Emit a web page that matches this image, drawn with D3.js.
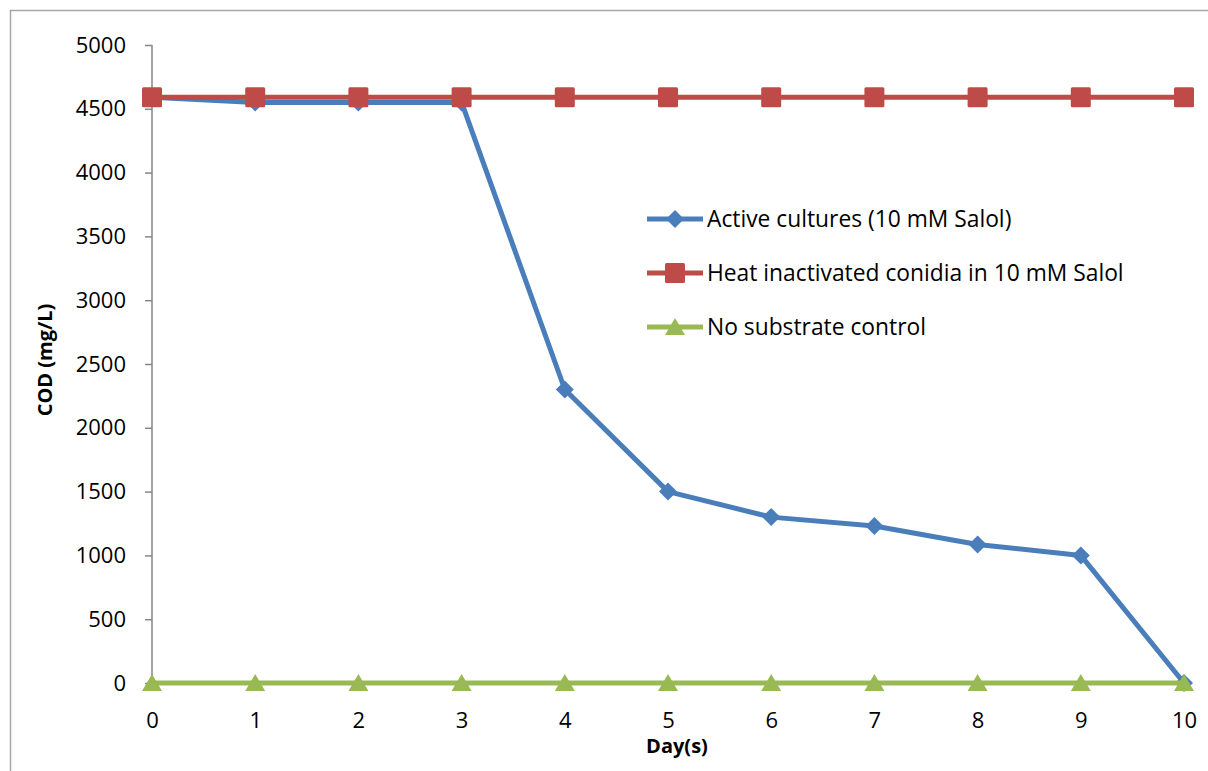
<!DOCTYPE html>
<html><head><meta charset="utf-8">
<script src="https://cdn.jsdelivr.net/npm/d3@7"></script>
<style>body{margin:0;background:#fff}svg text{font-family:"Open Sans",Lato,sans-serif;fill:#000}</style>
</head><body><svg id="c" width="1208" height="771"></svg>
<script>
const days = [0,1,2,3,4,5,6,7,8,9,10];
const activeCultures = [4590,4550,4550,4550,2300,1500,1300,1230,1085,1000,0];
const heatInactivated = [4590,4590,4590,4590,4590,4590,4590,4590,4590,4590,4590];
const noSubstrate = [0,0,0,0,0,0,0,0,0,0,0];
const yTicks = [0,500,1000,1500,2000,2500,3000,3500,4000,4500,5000];
const seriesNames = ["Active cultures (10 mM Salol)","Heat inactivated conidia in 10 mM Salol","No substrate control"];

const svg = d3.select("#c");
svg.append("rect").attr("x",10.5).attr("y",10.5).attr("width",1300).attr("height",900)
  .attr("fill","none").attr("stroke","#a6a6a6").attr("stroke-width",1.5);

const x = d3.scaleLinear().domain([0,10]).range([152,1184]);
const y = d3.scaleLinear().domain([0,5000]).range([683,45]);

const yAxis = svg.append("g").attr("transform","translate(152,0)")
  .call(d3.axisLeft(y).tickValues(yTicks).tickFormat(d3.format("d")).tickSize(7).tickPadding(19));
yAxis.select(".domain").attr("stroke","#868686").attr("stroke-width",1.5).attr("d","M0,45V683");
yAxis.selectAll(".tick line").attr("stroke","#868686").attr("stroke-width",1.5);
yAxis.selectAll("text").attr("font-size",22).attr("fill","#000");

const xAxis = svg.append("g").attr("transform","translate(0,683)")
  .call(d3.axisBottom(x).tickValues(days).tickFormat(d3.format("d")).tickSize(0).tickPadding(29));
xAxis.select(".domain").attr("stroke","#868686").attr("stroke-width",1.5);
xAxis.selectAll("text").attr("font-size",22).attr("fill","#000");

svg.append("text").attr("transform","translate(52,360) rotate(-90)").attr("text-anchor","middle")
  .attr("font-size",20).attr("font-weight","bold").text("COD (mg/L)");
svg.append("text").attr("x",677).attr("y",753).attr("text-anchor","middle")
  .attr("font-size",20).attr("font-weight","bold").text("Day(s)");

const colors = ["#4a7ebb","#be4b48","#98b954"];
const data = [activeCultures, heatInactivated, noSubstrate];
const line = d3.line().x((d,i)=>x(days[i])).y(d=>y(d));

function drawMarker(g, k, cx, cy){
  if(k===0){
    g.append("path").attr("d","M0,-9L9,0L0,9L-9,0Z").attr("transform",`translate(${cx},${cy})`).attr("fill",colors[0]);
  } else if(k===1){
    g.append("rect").attr("x",cx-10).attr("y",cy-10).attr("width",20).attr("height",20).attr("rx",1.5).attr("fill",colors[1]);
  } else {
    g.append("path").attr("d","M0,-9L10,8L-10,8Z").attr("transform",`translate(${cx},${cy})`).attr("fill",colors[2]);
  }
}

data.forEach((vals,k)=>{
  const g = svg.append("g");
  g.append("path").datum(vals).attr("d",line).attr("fill","none").attr("stroke",colors[k])
    .attr("stroke-width",5).attr("stroke-linejoin","round");
  vals.forEach((v,i)=>drawMarker(g,k,x(days[i]),y(v)));
});

// legend
const leg = svg.append("g");
seriesNames.forEach((n,k)=>{
  const ly = 219 + k*54;
  leg.append("line").attr("x1",647).attr("x2",703).attr("y1",ly).attr("y2",ly)
    .attr("stroke",colors[k]).attr("stroke-width",5);
  drawMarker(leg,k,675,ly);
  leg.append("text").attr("x",707).attr("y",ly+8).attr("font-size",22.8).text(n);
});
</script></body></html>
